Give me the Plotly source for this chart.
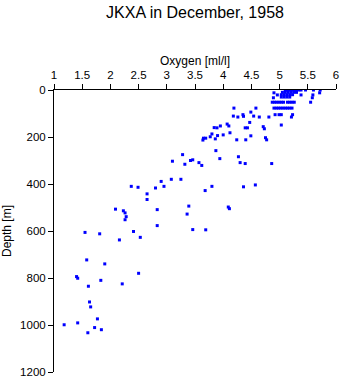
import plotly.graph_objects as go

oxygen = [
    5.10, 5.14, 5.18, 5.22, 5.26, 5.30, 5.34, 5.38, 5.46, 5.60, 5.72,
    4.90, 5.05, 5.10, 5.15, 5.20, 5.25, 5.30, 5.71,
    4.96, 5.03, 5.08, 5.13, 5.18, 5.23, 5.38, 5.59,
    4.89, 5.03, 5.08, 5.13, 5.18, 5.58,
    4.87, 4.91, 4.95, 4.99, 5.03, 5.07, 5.14, 5.18, 5.22, 5.26, 5.55,
    4.90, 4.94, 4.98, 5.02, 5.06, 5.10, 5.14, 5.18, 5.22,
    4.19, 4.58, 4.49,
    4.35, 4.36, 4.18, 4.26, 4.54, 4.64, 4.81,
    4.92, 4.99, 5.03, 5.23, 5.21,
    4.47, 5.03,
    3.84, 3.89, 3.95, 4.07, 4.10, 4.39, 4.43, 4.71, 4.73,
    3.80, 3.77, 3.90, 4.00, 4.12, 4.49,
    3.65, 3.69, 3.64, 3.86, 4.24, 4.40, 4.75, 4.77,
    3.87, 3.94, 4.27, 4.30, 4.39, 4.86,
    3.28, 3.32, 3.42, 3.46, 3.57, 3.62, 3.10,
    2.37, 2.49, 2.80, 2.90, 3.08, 3.25, 2.95, 2.65, 2.65,
    3.80, 3.68, 4.36, 4.57,
    2.09, 2.23, 2.26, 2.28, 2.26, 2.83, 2.83, 3.39, 3.36, 4.09, 4.11,
    3.46, 3.69,
    1.55, 1.81, 2.41, 2.53, 2.16,
    1.58, 1.90, 2.50, 1.40, 1.42, 1.83, 2.21, 1.61,
    1.63, 1.65, 1.77, 1.18, 1.42, 1.72, 1.84, 1.60,
]

depth = [
    0, 0, 0, 0, 0, 0, 0, 0, 0, 0, 0,
    12, 10, 10, 10, 10, 10, 10, 12,
    21, 20, 20, 20, 20, 20, 21, 21,
    33, 30, 30, 30, 30, 33,
    52, 52, 52, 52, 52, 52, 52, 52, 52, 52, 52,
    77, 77, 77, 77, 77, 77, 77, 77, 77,
    77, 77, 94,
    105, 112, 111, 115, 111, 115, 115,
    105, 105, 105, 105, 115,
    138, 149,
    160, 161, 153, 145, 153, 161, 161, 156, 165,
    187, 199, 194, 191, 182, 195,
    205, 205, 213, 208, 212, 212, 203, 212,
    258, 292, 284, 309, 313, 313,
    275, 316, 300, 297, 309, 321, 303,
    410, 414, 417, 389, 380, 380, 410, 442, 466,
    410, 428, 412, 404,
    507, 514, 523, 539, 552, 509, 577, 494, 528, 498, 505,
    594, 595,
    606, 612, 602, 627, 638,
    723, 740, 780, 794, 801, 810, 825, 835,
    902, 923, 974, 999, 991, 1011, 1020, 1033,
]

x_ticks = [1, 1.5, 2, 2.5, 3, 3.5, 4, 4.5, 5, 5.5, 6]
y_ticks = [0, 200, 400, 600, 800, 1000, 1200]

FONT = "Liberation Sans, Arial, sans-serif"

fig = go.Figure(
    go.Scatter(
        x=oxygen, y=depth, mode="markers",
        marker=dict(symbol="square", size=3, color="#0000FF", line=dict(width=0)),
        hoverinfo="x+y",
    )
)

fig.update_layout(
    width=345, height=384,
    margin=dict(l=54, r=6, t=90, b=9),
    paper_bgcolor="white", plot_bgcolor="white",
    showlegend=False,
    font=dict(family=FONT, size=11, color="black"),
    title=dict(
        text="JKXA in December, 1958",
        x=0.5, xref="paper", xanchor="center",
        y=1 - 12 / 384, yref="container", yanchor="middle",
        font=dict(family=FONT, size=16, color="black"),
    ),
    xaxis=dict(
        side="top", range=[1, 6],
        tickmode="array", tickvals=x_ticks, ticktext=[f"{v:g}" for v in x_ticks],
        ticks="outside", ticklen=5, tickwidth=1, tickcolor="black",
        showline=True, linecolor="black", linewidth=1,
        showgrid=False, zeroline=False,
        tickfont=dict(family=FONT, size=11.5),
        title=dict(text="Oxygen [ml/l]", font=dict(family=FONT, size=12), standoff=1),
    ),
    yaxis=dict(
        range=[1200, 0],
        tickmode="array", tickvals=y_ticks, ticktext=[str(v) for v in y_ticks],
        ticks="outside", ticklen=5, tickwidth=1, tickcolor="black",
        showline=True, linecolor="black", linewidth=1,
        showgrid=False, zeroline=False,
        tickfont=dict(family=FONT, size=11.5),
        title=dict(text="Depth [m]", font=dict(family=FONT, size=12), standoff=5),
    ),
)

fig.write_html("out.html")
